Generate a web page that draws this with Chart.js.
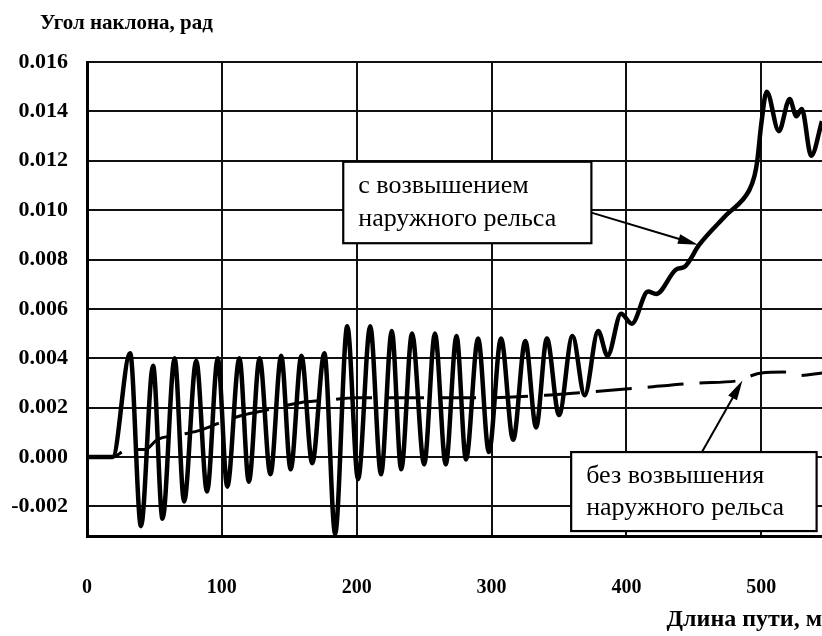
<!DOCTYPE html>
<html lang="ru">
<head>
<meta charset="utf-8">
<title>Угол наклона</title>
<script src="https://cdn.jsdelivr.net/npm/chart.js@4.4.1/dist/chart.umd.min.js"></script>
<style>
  html, body { margin: 0; padding: 0; background: #fff; overflow: hidden; }
  #wrap { position: relative; width: 822px; height: 636px; }
</style>
</head>
<body>
<div id="wrap"><canvas id="chart" width="822" height="636"></canvas></div>
<script>
// Distance along the track, m, and rail slope angle, rad — with outer-rail superelevation
const distWith = [0, 19, 32, 40, 49, 56, 65, 72, 81, 89, 97, 104, 113, 120, 128, 136, 144, 151, 159, 167,
  176, 184, 193, 201, 210, 218, 226, 233, 241, 250, 258, 266, 274, 281, 290, 298, 307, 316, 325, 333,
  341, 350, 360, 369, 379, 386, 396, 404, 416, 422, 437, 443, 454, 474, 491, 495, 497, 500, 504, 513,
  521, 526, 530, 537, 545];
const slopeWith = [0, 0, 0.0042, -0.0028, 0.0037, -0.0025, 0.0040, -0.0018, 0.0039, -0.0014, 0.0040, -0.0012,
  0.0040, -0.0010, 0.0040, -0.0007, 0.0041, -0.0005, 0.0041, -0.00025,
  0.0042, -0.0031, 0.0053, -0.0009, 0.0053, -0.0007, 0.0051, -0.0005, 0.0050, -0.0003, 0.0050, -0.0003,
  0.0049, -0.0001, 0.0048, 0.0002, 0.0048, 0.0007, 0.0047, 0.0012,
  0.0048, 0.0017, 0.0049, 0.0025, 0.0051, 0.0041, 0.0058, 0.0054, 0.0067, 0.0066, 0.0076, 0.0077,
  0.0086, 0.0098, 0.0108, 0.0114, 0.0120, 0.0135, 0.0148, 0.0132,
  0.0145, 0.0138, 0.0141, 0.0122, 0.0136];

// Without superelevation
const distWithout = [0, 19, 30, 43, 52, 69, 85, 99, 116, 133, 158, 178, 200, 250, 300, 340, 365, 410,
  454, 484, 493, 500, 517, 528, 545];
const slopeWithout = [0, 0, 0.0003, 0.0003, 0.0007, 0.0009, 0.0011, 0.0014, 0.0017, 0.0019, 0.0022, 0.0023,
  0.0024, 0.0024, 0.0024, 0.0025, 0.0026, 0.0028, 0.0030, 0.0031, 0.0033, 0.0034, 0.00344, 0.0033, 0.0034];

// Axis ticks
const xTicks = [0, 100, 200, 300, 400, 500];
const yTicks = [-0.002, 0, 0.002, 0.004, 0.006, 0.008, 0.010, 0.012, 0.014, 0.016];

const yTitle = 'Угол наклона, рад';
const xTitle = 'Длина пути, м';
const labelWith = ['с возвышением', 'наружного рельса'];
const labelWithout = ['без возвышения', 'наружного рельса'];

const toPoints = (xs, ys) => xs.map((x, i) => ({ x: x, y: ys[i] }));

// Callout boxes with arrows, placed in data units
const callouts = [
  { lines: labelWith, box: [190, 0.01196, 374, 0.00866], from: [374, 0.0099], to: [453, 0.0086] },
  { lines: labelWithout, box: [359, 0.00020, 541, -0.00300], from: [456, 0.00020], to: [486, 0.0031] }
];

const serif = '"Liberation Serif", "Times New Roman", serif';

const calloutPlugin = {
  id: 'callouts',
  afterDatasetsDraw(chart) {
    const { ctx, scales } = chart;
    const xs = scales.x, ys = scales.y;
    ctx.save();
    callouts.forEach(c => {
      const x0 = xs.getPixelForValue(c.box[0]), y0 = ys.getPixelForValue(c.box[1]);
      const x1 = xs.getPixelForValue(c.box[2]), y1 = ys.getPixelForValue(c.box[3]);
      // arrow shaft
      const fx = xs.getPixelForValue(c.from[0]), fy = ys.getPixelForValue(c.from[1]);
      const tx = xs.getPixelForValue(c.to[0]), ty = ys.getPixelForValue(c.to[1]);
      const ang = Math.atan2(ty - fy, tx - fx);
      const headLen = 20, headHalf = 5;
      ctx.strokeStyle = '#000';
      ctx.lineWidth = 2;
      ctx.beginPath();
      ctx.moveTo(fx, fy);
      ctx.lineTo(tx - Math.cos(ang) * headLen * 0.8, ty - Math.sin(ang) * headLen * 0.8);
      ctx.stroke();
      ctx.fillStyle = '#000';
      ctx.beginPath();
      ctx.moveTo(tx, ty);
      ctx.lineTo(tx - Math.cos(ang) * headLen - Math.sin(ang) * headHalf,
                 ty - Math.sin(ang) * headLen + Math.cos(ang) * headHalf);
      ctx.lineTo(tx - Math.cos(ang) * headLen + Math.sin(ang) * headHalf,
                 ty - Math.sin(ang) * headLen - Math.cos(ang) * headHalf);
      ctx.closePath();
      ctx.fill();
      // box
      ctx.fillStyle = '#fff';
      ctx.fillRect(x0, y0, x1 - x0, y1 - y0);
      ctx.lineWidth = 2.2;
      ctx.strokeRect(x0, y0, x1 - x0, y1 - y0);
      // text
      ctx.fillStyle = '#000';
      ctx.font = '26px ' + serif;
      ctx.textAlign = 'left';
      ctx.textBaseline = 'middle';
      const h = y1 - y0;
      c.lines.forEach((t, i) => {
        ctx.fillText(t, x0 + 15, y0 + h * (0.30 + 0.41 * i));
      });
    });
    ctx.restore();
  },
  afterDraw(chart) {
    const { ctx } = chart;
    ctx.save();
    ctx.fillStyle = '#000';
    ctx.font = 'bold 21px ' + serif;
    ctx.textAlign = 'left';
    ctx.textBaseline = 'middle';
    ctx.fillText(yTitle, 40, 24);
    ctx.restore();
  }
};

new Chart(document.getElementById('chart'), {
  type: 'line',
  data: {
    datasets: [
      {
        label: labelWith.join(' '),
        data: toPoints(distWith, slopeWith),
        borderColor: '#000',
        borderWidth: 4.5,
        pointRadius: 0,
        cubicInterpolationMode: 'monotone',
        fill: false
      },
      {
        label: labelWithout.join(' '),
        data: toPoints(distWithout, slopeWithout),
        borderColor: '#000',
        borderWidth: 3,
        borderDash: [36, 16],
        pointRadius: 0,
        cubicInterpolationMode: 'monotone',
        fill: false
      }
    ]
  },
  options: {
    responsive: false,
    animation: false,
    devicePixelRatio: 1,
    layout: { padding: { top: 62, right: 0, bottom: 0, left: 0 } },
    plugins: {
      legend: { display: false },
      tooltip: { enabled: false }
    },
    scales: {
      x: {
        type: 'linear',
        min: 0,
        max: 545,
        afterBuildTicks: s => { s.ticks = xTicks.map(v => ({ value: v })); },
        afterFit: s => { s.height = 100; },
        grid: { color: '#111', lineWidth: 2, drawTicks: false },
        border: { display: true, color: '#000', width: 3 },
        ticks: {
          color: '#000',
          padding: 40,
          maxRotation: 0,
          font: { family: serif, size: 20, weight: 'bold' },
          callback: v => String(v)
        },
        title: {
          display: true,
          text: xTitle,
          align: 'end',
          color: '#000',
          font: { family: serif, size: 24, weight: 'bold' },
          padding: { top: 0, bottom: 2 }
        }
      },
      y: {
        type: 'linear',
        min: -0.0032,
        max: 0.016,
        afterBuildTicks: s => { s.ticks = yTicks.map(v => ({ value: v })); },
        afterFit: s => { s.width = 87; },
        grid: { color: '#111', lineWidth: 2, drawTicks: false },
        border: { display: true, color: '#000', width: 3 },
        ticks: {
          color: '#000',
          padding: 19,
          font: { family: serif, size: 22, weight: 'bold' },
          callback: v => v.toFixed(3)
        }
      }
    }
  },
  plugins: [calloutPlugin]
});
</script>
</body>
</html>
